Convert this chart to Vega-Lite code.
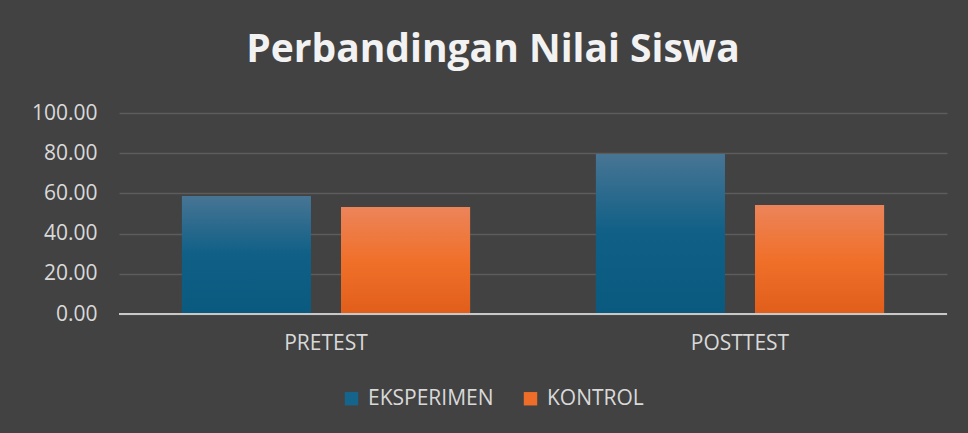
{
  "$schema": "https://vega.github.io/schema/vega-lite/v6.json",
  "width": 828,
  "height": 201,
  "autosize": {"type": "none"},
  "padding": {"left": 119, "top": 113, "right": 21, "bottom": 119},
  "background": "#424242",
  "config": {"view": {"stroke": null}},
  "title": {
    "text": "Perbandingan Nilai Siswa",
    "font": "Open Sans",
    "fontSize": 39,
    "fontWeight": "bold",
    "color": "#f2f2f2",
    "anchor": "middle",
    "frame": "group",
    "baseline": "alphabetic",
    "offset": 1,
    "dx": -40
  },
  "data": {
    "values": [
      {"tes": "PRETEST", "grup": "EKSPERIMEN", "nilai": 58.7},
      {"tes": "PRETEST", "grup": "KONTROL", "nilai": 53.2},
      {"tes": "POSTTEST", "grup": "EKSPERIMEN", "nilai": 79.6},
      {"tes": "POSTTEST", "grup": "KONTROL", "nilai": 54.2}
    ]
  },
  "encoding": {
    "x": {
      "field": "tes",
      "type": "nominal",
      "sort": ["PRETEST", "POSTTEST"],
      "scale": {"paddingInner": 0.304, "paddingOuter": 0.152},
      "axis": {
        "title": null,
        "labelAngle": 0,
        "labelFont": "Open Sans",
        "labelFontSize": 21,
        "labelColor": "#d9d9d9",
        "labelPadding": 18,
        "ticks": false,
        "domain": false,
        "grid": false
      }
    },
    "xOffset": {
      "field": "grup",
      "type": "nominal",
      "sort": ["EKSPERIMEN", "KONTROL"],
      "scale": {"paddingInner": 0.189, "paddingOuter": 0}
    },
    "y": {
      "field": "nilai",
      "type": "quantitative",
      "scale": {"domain": [0, 100], "nice": false},
      "axis": {
        "title": null,
        "values": [0, 20, 40, 60, 80, 100],
        "format": ".2f",
        "labelFont": "Open Sans",
        "labelFontSize": 21,
        "labelColor": "#d9d9d9",
        "labelPadding": 22,
        "ticks": false,
        "domain": false,
        "gridColor": "#5c5c5c",
        "gridWidth": 1.5
      }
    }
  },
  "layer": [
    {
      "mark": {"type": "bar"},
      "encoding": {
        "color": {
          "field": "grup",
          "type": "nominal",
          "sort": ["EKSPERIMEN", "KONTROL"],
          "scale": {"domain": ["EKSPERIMEN", "KONTROL"], "range": ["#15648c", "#ee6d28"]},
          "legend": {
            "title": null,
            "orient": "none",
            "direction": "horizontal",
            "legendX": 222,
            "legendY": 275,
            "symbolType": "square",
            "symbolSize": 180,
            "symbolStrokeWidth": 0,
            "labelFont": "Open Sans",
            "labelFontSize": 21,
            "labelColor": "#d9d9d9",
            "columnPadding": 26,
            "labelOffset": 6
          }
        }
      }
    },
    {
      "mark": {"type": "bar"},
      "encoding": {
        "fill": {
          "condition": {
            "test": "datum.grup === 'EKSPERIMEN'",
            "value": {
              "gradient": "linear", "x1": 0, "y1": 0, "x2": 0, "y2": 1,
              "stops": [
                {"offset": 0, "color": "#487594"},
                {"offset": 0.5, "color": "#0f5f86"},
                {"offset": 1, "color": "#0a5a80"}
              ]
            }
          },
          "value": {
            "gradient": "linear", "x1": 0, "y1": 0, "x2": 0, "y2": 1,
            "stops": [
              {"offset": 0, "color": "#ec845a"},
              {"offset": 0.5, "color": "#f0702a"},
              {"offset": 1, "color": "#e05e1a"}
            ]
          }
        }
      }
    },
    {
      "mark": {"type": "rule", "color": "#c8c8c8", "strokeWidth": 2},
      "encoding": {
        "y": {"datum": 0},
        "x": null,
        "xOffset": null
      }
    }
  ]
}
